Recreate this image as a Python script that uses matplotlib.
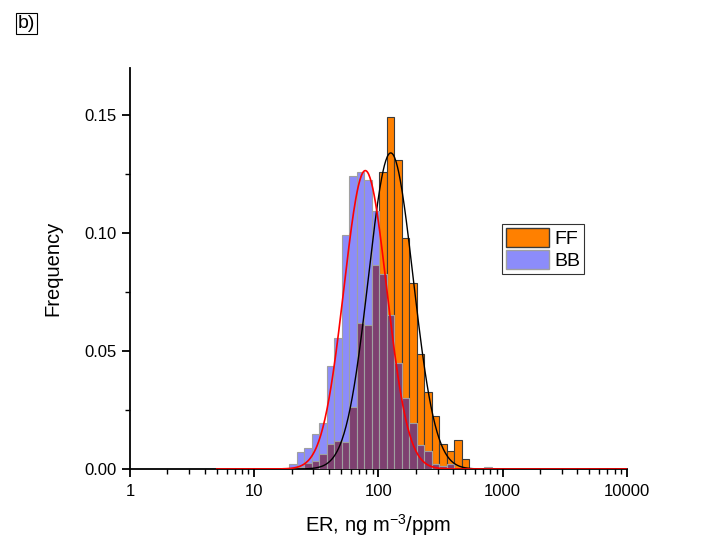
import numpy as np
import matplotlib
matplotlib.use('Agg')
import matplotlib.pyplot as plt
from matplotlib.ticker import FixedLocator, LogLocator, NullFormatter, MultipleLocator, FormatStrFormatter
from matplotlib.patches import Patch

plt.rcParams['font.family'] = ['Liberation Sans', 'DejaVu Sans']
plt.rcParams['mathtext.default'] = 'regular'

# log-spaced histogram bins (log10 of first left edge, log10 bin width, number of bins)
bin_start_log = 1.221
bin_step_log = 0.0605
n_bins = 28

# frequencies per bin
ff_freq = [0.0, 0.0005, 0.001, 0.0027, 0.0034, 0.0065, 0.0105, 0.0119, 0.0116,
           0.0261, 0.0619, 0.0609, 0.0865, 0.1258, 0.1494, 0.1311, 0.098, 0.0787,
           0.0486, 0.0328, 0.0223, 0.0105, 0.0077, 0.0122, 0.0043, 0.0, 0.0, 0.0]
bb_freq = [0.0006, 0.0023, 0.0072, 0.0088, 0.015, 0.0193, 0.0436, 0.0555, 0.0993,
           0.124, 0.1258, 0.1227, 0.1095, 0.0825, 0.0652, 0.045, 0.030, 0.0193,
           0.0102, 0.0077, 0.002, 0.0013, 0.002, 0.0, 0.0, 0.0, 0.0, 0.0008]

# gaussian fits in log10(ER): amplitude, centre, sigma
ff_fit = (0.134, 2.10, 0.18)
bb_fit = (0.1265, 1.895, 0.172)
fit_range = (5, 10000)

edges = 10 ** (bin_start_log + bin_step_log * np.arange(n_bins + 1))
left = edges[:-1]
width = np.diff(edges)
ff = np.array(ff_freq)
bb = np.array(bb_freq)
overlap = np.minimum(ff, bb)

fig = plt.figure(figsize=(7.19, 5.54), dpi=100)
ax = fig.add_axes([0.1808, 0.1534, 0.6908, 0.7239])

ax.bar(left, ff, width=width, align='edge', color='#FF8000', edgecolor='#3a3a3a', linewidth=0.8, zorder=2)
ax.bar(left, bb, width=width, align='edge', color='#8C8CFA', edgecolor='#a0a0a0', linewidth=0.8, zorder=3)
ax.bar(left, overlap, width=width, align='edge', color='#7E4070', edgecolor='#a0a0a0', linewidth=0.8, zorder=4)

xf = np.logspace(np.log10(fit_range[0]), np.log10(fit_range[1]), 600)
lx = np.log10(xf)
a, c, s = ff_fit
ax.plot(xf, a * np.exp(-0.5 * ((lx - c) / s) ** 2), color='black', lw=1.0, zorder=5)
a, c, s = bb_fit
ax.plot(xf, a * np.exp(-0.5 * ((lx - c) / s) ** 2), color='red', lw=1.2, zorder=6)

ax.set_xscale('log')
ax.set_xlim(1, 10000)
ax.set_ylim(0, 0.17)
ax.xaxis.set_major_locator(FixedLocator([1, 10, 100, 1000, 10000]))
ax.set_xticklabels(['1', '10', '100', '1000', '10000'])
ax.xaxis.set_minor_locator(LogLocator(base=10, subs=np.arange(2, 10)))
ax.xaxis.set_minor_formatter(NullFormatter())
ax.yaxis.set_major_locator(FixedLocator([0, 0.05, 0.10, 0.15]))
ax.yaxis.set_major_formatter(FormatStrFormatter('%.2f'))
ax.yaxis.set_minor_locator(MultipleLocator(0.025))

for side in ['top', 'right']:
    ax.spines[side].set_visible(False)
for side in ['left', 'bottom']:
    ax.spines[side].set_linewidth(1.3)
ax.tick_params(which='major', direction='out', length=6, width=1.3, labelsize=12)
ax.tick_params(which='minor', direction='out', length=3.5, width=1.0)
ax.tick_params(axis='x', pad=5)

ax.set_xlabel('ER, ng m$^{-3}$/ppm', fontsize=14.5, labelpad=9)
ax.set_ylabel('Frequency', fontsize=14.5, labelpad=16)

handles = [Patch(facecolor='#FF8000', edgecolor='#3a3a3a', label='FF'),
           Patch(facecolor='#8C8CFA', edgecolor='#a0a0a0', label='BB')]
leg = ax.legend(handles=handles, loc='upper left', bbox_to_anchor=(0.698, 0.596),
                bbox_transform=fig.transFigure, fontsize=14, frameon=True, fancybox=False,
                edgecolor='black', handlelength=2.2, handleheight=1.15, labelspacing=0.1,
                borderpad=0.2, handletextpad=0.3, borderaxespad=0)
leg.get_frame().set_linewidth(0.8)

fig.text(0.025, 0.957, 'b)', fontsize=14, va='center', ha='left',
         bbox=dict(facecolor='none', edgecolor='black', linewidth=0.8, pad=1.5))

fig.savefig('out.png', dpi=100)
